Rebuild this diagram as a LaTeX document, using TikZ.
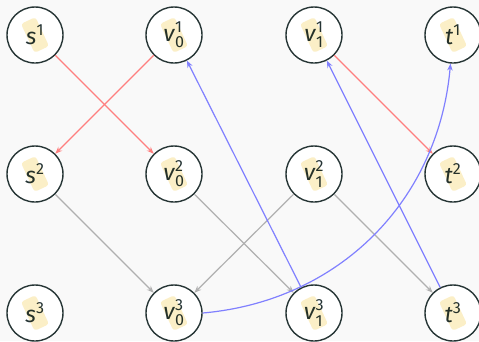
\documentclass[tikz,border=0pt]{standalone}
\usepackage{fontspec}
\setmainfont{Fira Sans}
\usetikzlibrary{arrows.meta}
\definecolor{bg}{HTML}{F9F9F9}
\definecolor{ink}{HTML}{263535}
\definecolor{redE}{HTML}{FF7F7F}
\definecolor{blueE}{HTML}{8080FF}
\definecolor{greyE}{HTML}{B0B0B0}
\definecolor{glow}{HTML}{FBEBBA}
\newcommand{\lab}[2]{\textit{#1}$^{\mathrm{#2}}$}
\newcommand{\labb}[3]{\textit{#1}$^{\mathrm{#2}}_{\mathrm{#3}}$}
\tikzset{
  vert/.style={circle, draw=ink, line width=1.4pt, fill=white, minimum size=56pt, inner sep=0pt, text=ink,
    font=\fontsize{23}{25}\selectfont},
  edge/.style={line width=1.2pt, -{Stealth[length=7pt,width=5.5pt]}},
  rededge/.style={edge, draw=redE},
  blueedge/.style={edge, draw=blueE},
  greyedge/.style={edge, draw=greyE},
}
\begin{document}
\begin{tikzpicture}[x=1pt,y=-1pt]
\fill[bg] (0,0) rectangle (479,341);
\useasboundingbox (0,0) rectangle (479,341);
\node[vert] (s1) at (35,35) {\lab{s}{1}};
\node[vert] (v01) at (174,35) {\labb{v}{1}{0}};
\node[vert] (v11) at (314,35) {\labb{v}{1}{1}};
\node[vert] (t1) at (453,35) {\lab{t}{1}};
\node[vert] (s2) at (35,174) {\lab{s}{2}};
\node[vert] (v02) at (174,174) {\labb{v}{2}{0}};
\node[vert] (v12) at (314,174) {\labb{v}{2}{1}};
\node[vert] (t2) at (453,174) {\lab{t}{2}};
\node[vert] (s3) at (35,313) {\lab{s}{3}};
\node[vert] (v03) at (174,313) {\labb{v}{3}{0}};
\node[vert] (v13) at (314,313) {\labb{v}{3}{1}};
\node[vert] (t3) at (453,313) {\lab{t}{3}};
\begin{scope}[blend mode=multiply]
\foreach \x/\y in {35/35,174/35,314/35,453/35,35/174,174/174,314/174,453/174,35/313,174/313,314/313,453/313}{
  \fill[glow, opacity=0.8, rotate around={-65:(\x,\y)}, rounded corners=3pt] (\x-16,\y-8) rectangle (\x+16,\y+8);
}
\end{scope}
\draw[rededge] (s1) -- (v02);
\draw[rededge] (v01) -- (s2);
\draw[rededge] (v11) -- (t2);
\draw[greyedge] (s2) -- (v03);
\draw[greyedge] (v12) -- (v03);
\draw[greyedge] (v02) -- (v13);
\draw[greyedge] (v12) -- (t3);
\draw[blueedge] (v13) -- (v01);
\draw[blueedge] (t3) -- (v11);
\draw[blueedge] (v03.east) to[out=5,in=-95] (t1);
\end{tikzpicture}
\end{document}
